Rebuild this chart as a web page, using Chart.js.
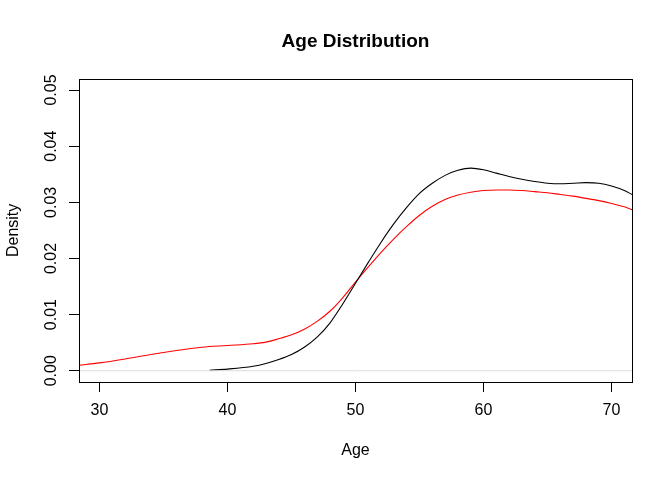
<!DOCTYPE html>
<html>
<head>
<meta charset="utf-8">
<script src="https://cdn.jsdelivr.net/npm/chart.js@4"></script>
<style>
  html, body { margin: 0; padding: 0; background: #ffffff; }
  #wrap { width: 672px; height: 480px; }
</style>
</head>
<body>
<div id="wrap"><canvas id="c" width="672" height="480"></canvas></div>
<script>
// ---- data ----
const ageBlack = [38.6, 40, 42, 43, 44, 45, 46, 47, 48, 49, 50, 51, 52, 53, 54, 55, 56, 57, 58, 59, 60, 61, 62, 63, 64, 65, 66, 67, 68, 69, 70, 71, 71.6];
const densBlack = [0.0001, 0.0003, 0.0008, 0.0013, 0.0020, 0.0029, 0.0042, 0.0060, 0.0085, 0.0119, 0.0156, 0.0193, 0.0229, 0.0262, 0.0291, 0.0316, 0.0334, 0.0348, 0.0357, 0.0361, 0.0358, 0.0352, 0.0346, 0.0341, 0.0337, 0.0334, 0.0333, 0.0334, 0.0335, 0.0334, 0.0329, 0.0321, 0.0314];

const ageRed = [28.4, 30, 32, 34, 36, 38, 40, 42, 43, 44, 45, 46, 47, 48, 49, 50, 51, 52, 53, 54, 55, 56, 57, 58, 59, 60, 61, 62, 63, 64, 65, 66, 67, 68, 69, 70, 71, 71.6];
const densRed = [0.0010, 0.0014, 0.0021, 0.0029, 0.0036, 0.0042, 0.0045, 0.0048, 0.0051, 0.0057, 0.0064, 0.0074, 0.0088, 0.0106, 0.0130, 0.0158, 0.0185, 0.0211, 0.0235, 0.0257, 0.0277, 0.0293, 0.0305, 0.0313, 0.0318, 0.0321, 0.0322, 0.0322, 0.0321, 0.0319, 0.0317, 0.0314, 0.0311, 0.0307, 0.0303, 0.0298, 0.0292, 0.0287];

const xTicks = [30, 40, 50, 60, 70];
const yTicks = [0.00, 0.01, 0.02, 0.03, 0.04, 0.05];
const xRange = [28.4, 71.6];
const yRange = [-0.002, 0.052];
const zeroLine = [0, 0];

const titleText = 'Age Distribution';
const xTitle = 'Age';
const yTitle = 'Density';

// ---- build ----
const toPts = (xs, ys) => xs.map((x, i) => ({ x: x, y: ys[i] }));

const FONT = '"Liberation Sans", Arial, Helvetica, sans-serif';

const boxPlugin = {
  id: 'box',
  afterDatasetsDraw(chart) {
    const a = chart.chartArea;
    const ctx = chart.ctx;
    ctx.save();
    ctx.strokeStyle = '#000000';
    ctx.lineWidth = 1;
    ctx.strokeRect(Math.round(a.left) + 0.5, Math.round(a.top) + 0.5,
                   Math.round(a.right - a.left), Math.round(a.bottom - a.top));
    ctx.restore();
  }
};

new Chart(document.getElementById('c'), {
  type: 'line',
  data: {
    datasets: [
      {
        label: 'zero',
        data: toPts(xRange, zeroLine),
        borderColor: '#dcdcdc',
        borderWidth: 1,
        pointRadius: 0,
        fill: false
      },
      {
        label: 'black',
        data: toPts(ageBlack, densBlack),
        borderColor: '#000000',
        borderWidth: 1.1,
        pointRadius: 0,
        cubicInterpolationMode: 'monotone',
        fill: false
      },
      {
        label: 'red',
        data: toPts(ageRed, densRed),
        borderColor: '#ff0000',
        borderWidth: 1.1,
        pointRadius: 0,
        cubicInterpolationMode: 'monotone',
        fill: false
      }
    ]
  },
  options: {
    responsive: false,
    animation: false,
    devicePixelRatio: 1,
    layout: { padding: { top: 0, right: 40, left: 0, bottom: 0 } },
    plugins: {
      legend: { display: false },
      tooltip: { enabled: false },
      title: {
        display: true,
        text: titleText,
        fullSize: false,
        color: '#000000',
        font: { family: FONT, size: 19, weight: 'bold' },
        padding: { top: 30, bottom: 26 }
      }
    },
    scales: {
      x: {
        type: 'linear',
        min: xRange[0],
        max: xRange[1],
        afterBuildTicks: (s) => { s.ticks = xTicks.map(v => ({ value: v })); },
        afterFit: (s) => { s.height = 98; },
        ticks: {
          color: '#000000',
          font: { family: FONT, size: 16 },
          padding: 9,
          maxRotation: 0,
          callback: (v) => String(v)
        },
        grid: {
          drawOnChartArea: false,
          drawTicks: true,
          tickLength: 10,
          color: '#000000',
          lineWidth: 1
        },
        border: { display: false },
        title: {
          display: true,
          text: xTitle,
          color: '#000000',
          font: { family: FONT, size: 16 },
          padding: { top: 0, bottom: 20 }
        }
      },
      y: {
        type: 'linear',
        min: yRange[0],
        max: yRange[1],
        afterBuildTicks: (s) => { s.ticks = yTicks.map(v => ({ value: v })); },
        afterFit: (s) => { s.width = 79; },
        ticks: {
          color: '#000000',
          font: { family: FONT, size: 16 },
          padding: 2,
          minRotation: 90,
          maxRotation: 90,
          crossAlign: 'center',
          callback: (v) => Number(v).toFixed(2)
        },
        grid: {
          drawOnChartArea: false,
          drawTicks: true,
          tickLength: 10,
          color: '#000000',
          lineWidth: 1
        },
        border: { display: false },
        title: {
          display: true,
          text: yTitle,
          color: '#000000',
          font: { family: FONT, size: 16 },
          padding: { top: 4, bottom: 0 }
        }
      }
    }
  },
  plugins: [boxPlugin]
});
</script>
</body>
</html>
